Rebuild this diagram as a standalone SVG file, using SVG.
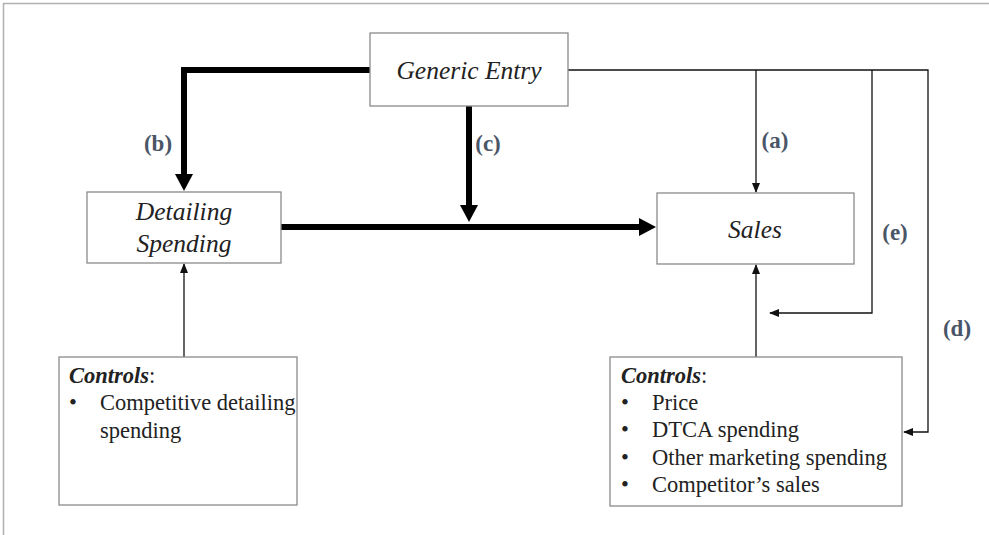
<svg xmlns="http://www.w3.org/2000/svg" width="989" height="535" viewBox="0 0 989 535">
<style>
.box{fill:#fff;stroke:#8a8a8a;stroke-width:1.3}
.thin{fill:none;stroke:#111;stroke-width:1.3}
.thick{fill:none;stroke:#000;stroke-width:6}
text{font-family:'Liberation Serif','Times New Roman',serif}
.node{font-style:italic;font-size:25.5px;fill:#222;text-anchor:middle}
.lbl{font-weight:bold;font-size:23px;fill:#4a5568;text-anchor:middle}
.ctl{font-size:22.5px;fill:#222}
</style>
<defs>
<marker id="ah" markerWidth="10" markerHeight="8" refX="9" refY="4" orient="auto" markerUnits="userSpaceOnUse">
<path d="M0,0 L10,4 L0,8 z" fill="#111"/>
</marker>
<marker id="AH" markerWidth="18" markerHeight="18" refX="4" refY="9" orient="auto" markerUnits="userSpaceOnUse">
<path d="M0,0 L17,9 L0,18 z" fill="#000"/>
</marker>
</defs>
<path d="M3.5,535 L3.5,3.5 L989,3.5" fill="none" stroke="#b0b0b0" stroke-width="1.5"/>
<g id="connectors">
<path class="thick" d="M370,70 L184,70 L184,178" marker-end="url(#AH)"/>
<path class="thick" d="M469,106 L469,209" marker-end="url(#AH)"/>
<path class="thick" d="M281,227 L643,227" marker-end="url(#AH)"/>
<path class="thin" d="M568,70 L928,70 L928,432 L904,432" marker-end="url(#ah)"/>
<path class="thin" d="M756,70 L756,192" marker-end="url(#ah)"/>
<path class="thin" d="M872,70 L872,313 L770,313" marker-end="url(#ah)"/>
<path class="thin" d="M756,357 L756,265" marker-end="url(#ah)"/>
<path class="thin" d="M184,357 L184,264" marker-end="url(#ah)"/>
<text class="lbl" x="158" y="151">(b)</text>
<text class="lbl" x="488" y="151">(c)</text>
<text class="lbl" x="775" y="148">(a)</text>
<text class="lbl" x="895" y="240">(e)</text>
<text class="lbl" x="957" y="336">(d)</text>
</g>
<g id="generic-entry">
<rect class="box" x="370" y="33" width="198" height="73"/>
<text class="node" x="469" y="79">Generic Entry</text>
</g>
<g id="detailing-spending">
<rect class="box" x="87" y="192" width="194" height="71"/>
<text class="node" x="184" y="220">Detailing</text>
<text class="node" x="184" y="252">Spending</text>
</g>
<g id="sales">
<rect class="box" x="657" y="193" width="197" height="71"/>
<text class="node" x="755" y="238">Sales</text>
</g>
<g id="controls-detailing">
<rect class="box" x="59" y="357" width="238" height="148"/>
<text class="ctl" x="69" y="383"><tspan font-weight="bold" font-style="italic">Controls</tspan>:</text>
<text class="ctl" x="69" y="410">•</text>
<text class="ctl" x="100" y="410">Competitive detailing</text>
<text class="ctl" x="100" y="438">spending</text>
</g>
<g id="controls-sales">
<rect class="box" x="610" y="357" width="292" height="149"/>
<text class="ctl" x="621" y="383"><tspan font-weight="bold" font-style="italic">Controls</tspan>:</text>
<text class="ctl" x="621" y="410">•</text>
<text class="ctl" x="652" y="410">Price</text>
<text class="ctl" x="621" y="437">•</text>
<text class="ctl" x="652" y="437">DTCA spending</text>
<text class="ctl" x="621" y="465">•</text>
<text class="ctl" x="652" y="465">Other marketing spending</text>
<text class="ctl" x="621" y="492">•</text>
<text class="ctl" x="652" y="492">Competitor’s sales</text>
</g>
</svg>
